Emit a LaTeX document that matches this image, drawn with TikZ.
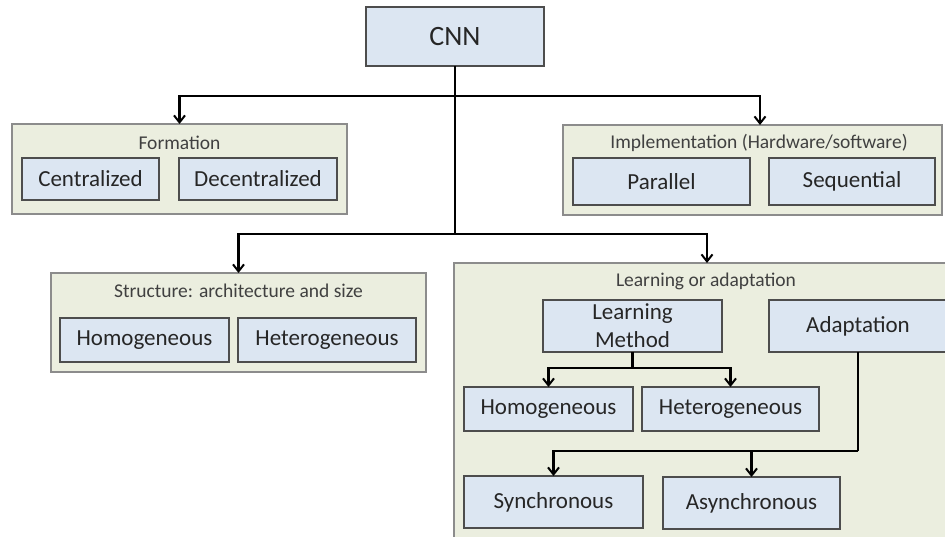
\documentclass[tikz,border=0pt]{standalone}
\usepackage{fontspec}
\setmainfont{Carlito}
\usetikzlibrary{arrows.meta}
\definecolor{groupfill}{HTML}{EBEEDF}
\definecolor{groupline}{HTML}{8C8C8C}
\definecolor{itemfill}{HTML}{DCE6F2}
\definecolor{itemline}{HTML}{4D4D4D}
\definecolor{txt}{HTML}{262626}
\definecolor{ttl}{HTML}{404040}

\begin{document}
\begin{tikzpicture}[x=1pt,y=-1pt,
  group/.style={draw=groupline,fill=groupfill,line width=1.2pt,inner sep=0pt,outer sep=0pt},
  item/.style={draw=itemline,fill=itemfill,line width=1.2pt,inner sep=0pt,outer sep=0pt,
    text=txt,font=\fontsize{23}{28}\selectfont,align=center},
  grouptitle/.style={text=ttl,font=\fontsize{19.5}{23}\selectfont,inner sep=0pt},
  conn/.style={line width=2.3pt,draw=black},
  arr/.style={conn,-{Straight Barb[length=7pt,width=11pt,line width=2pt]}},
]
\clip (0,0) rectangle (945,537);
\useasboundingbox (0,0) rectangle (945,537);

% groups
\node[group,minimum width=335,minimum height=90] (form) at (179.5,169) {};
\node[grouptitle] (formt) at (179.5,143) {Formation};
\node[group,minimum width=379,minimum height=90] (impl) at (752.5,170) {};
\node[grouptitle] (implt) at (759,143) {Implementation (Hardware/software)};
\node[group,minimum width=375,minimum height=99] (struct) at (238.5,322.5) {};
\node[grouptitle] (structt) at (238.5,291) {Structure: architecture and size};
\node[group,minimum width=506,minimum height=297] (learn) at (707,411.5) {};
\node[grouptitle] (learnt) at (706,281) {Learning or adaptation};

% root
\node[item,minimum width=178,minimum height=59,font=\fontsize{28}{32}\selectfont] (cnn) at (455,36.5) {CNN};

% connectors
\coordinate (top) at (455,96);
\coordinate (mid) at (455,234);
\draw[conn] (cnn.south) -- (mid);
\draw[arr] (top) -| (form.north);
\draw[arr] (top) -| ([xshift=7.5pt]impl.north);
\draw[arr] (mid) -| (struct.north);
\draw[arr] (mid) -| (learn.north);

% items
\node[item,minimum width=137,minimum height=42] (cent) at (90.5,179) {Centralized};
\node[item,minimum width=158,minimum height=42] (decent) at (258,179) {Decentralized};
\node[item,minimum width=177,minimum height=47] (par) at (661.5,181.5) {Parallel};
\node[item,minimum width=166,minimum height=47] (seq) at (852,181.5) {Sequential};
\node[item,minimum width=169,minimum height=44] (homo) at (144.5,340) {Homogeneous};
\node[item,minimum width=178,minimum height=44] (hetero) at (327,340) {Heterogeneous};
\node[item,minimum width=179,minimum height=52] (lm) at (632.5,326) {Learning\\Method};
\node[item,minimum width=178,minimum height=52] (adapt) at (858,326) {Adaptation};
\node[item,minimum width=169,minimum height=44] (homo2) at (548.5,409) {Homogeneous};
\node[item,minimum width=177,minimum height=44] (hetero2) at (730.5,409) {Heterogeneous};
\node[item,minimum width=179,minimum height=52] (sync) at (553.5,502) {Synchronous};
\node[item,minimum width=177,minimum height=52] (async) at (751.5,503) {Asynchronous};

% learning branches
\draw[conn] (lm.south) -- ++(0,16) coordinate (lmj);
\draw[arr] (lmj) -| (homo2.north);
\draw[arr] (lmj) -| (hetero2.north);
\draw[conn] (adapt.south) -- ++(0,99) coordinate (adj);
\draw[arr] (adj) -| (sync.north);
\draw[arr] (adj) -| (async.north);
\end{tikzpicture}
\end{document}
